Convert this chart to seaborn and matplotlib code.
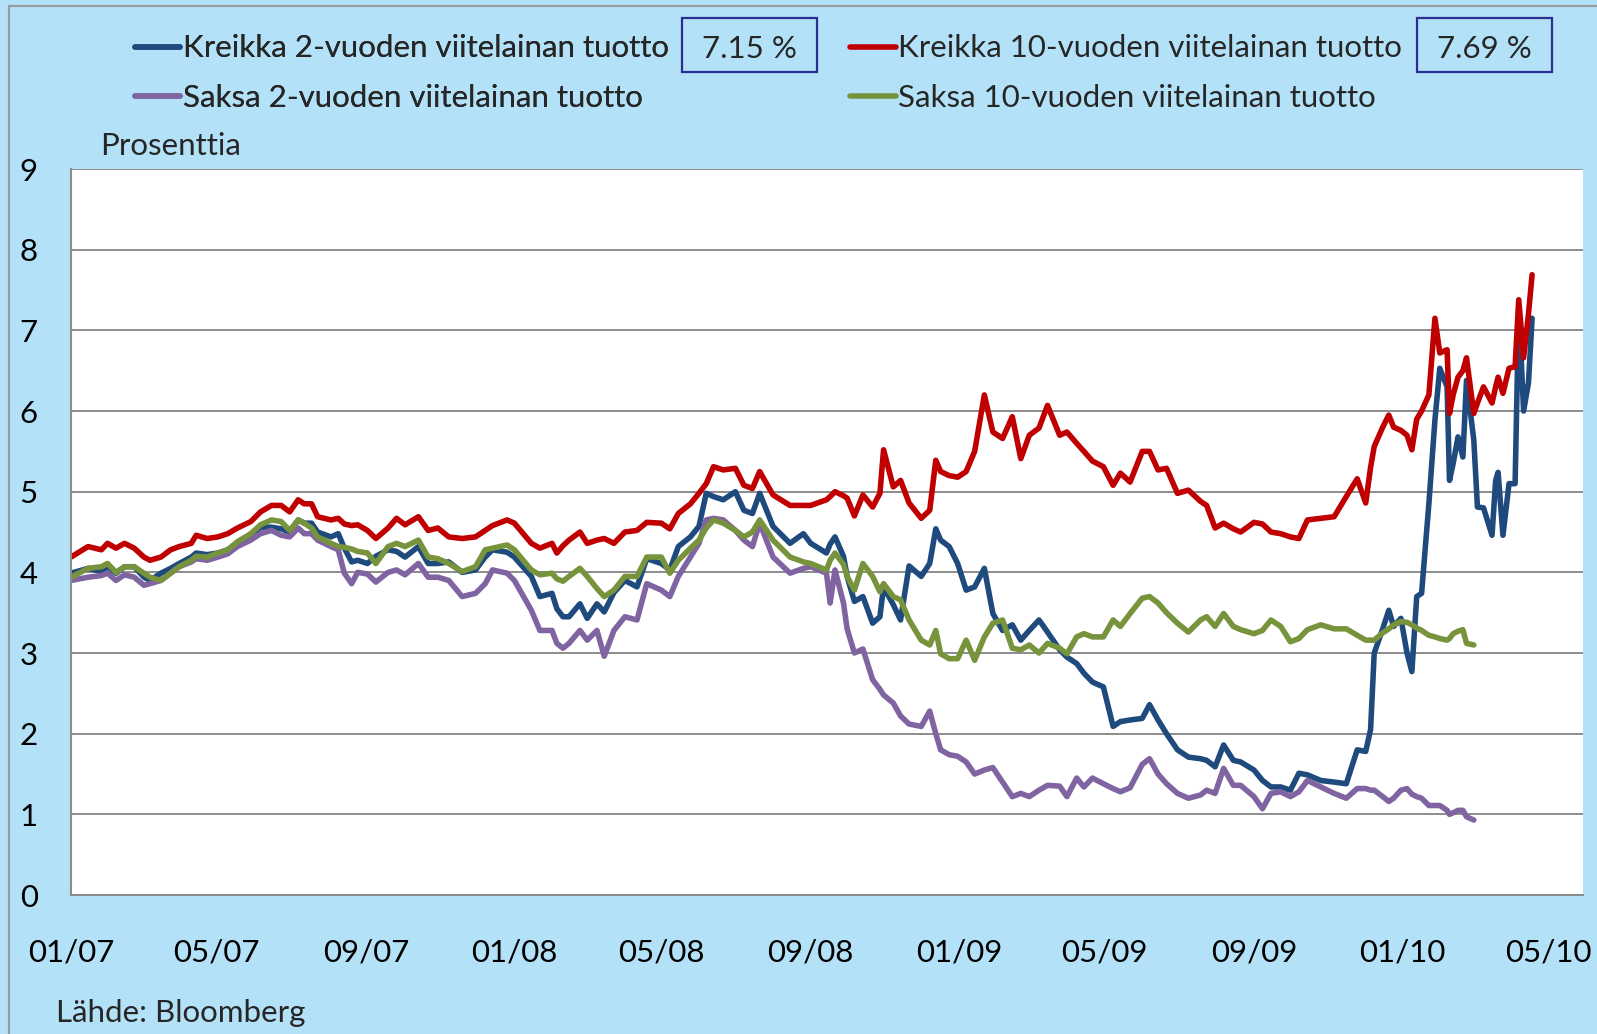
import matplotlib
matplotlib.use('Agg')
import matplotlib.pyplot as plt
import matplotlib.dates as mdates
from matplotlib import font_manager
from matplotlib.patches import Rectangle
import pandas as pd
import seaborn as sns

# sampling dates shared by all four series (German data ends 1.3.2010)
dates = [
    # 2007
    '2007-01-01', '2007-01-15', '2007-01-26', '2007-01-31', '2007-02-07', '2007-02-14', '2007-02-22',
    '2007-03-02', '2007-03-07', '2007-03-16', '2007-03-24', '2007-03-31', '2007-04-10', '2007-04-14',
    '2007-04-23', '2007-05-02', '2007-05-10', '2007-05-18', '2007-05-29', '2007-06-06', '2007-06-15',
    '2007-06-23', '2007-06-30', '2007-07-07', '2007-07-12', '2007-07-18', '2007-07-23', '2007-08-03',
    '2007-08-09', '2007-08-14', '2007-08-20', '2007-08-25', '2007-09-02', '2007-09-09', '2007-09-19',
    '2007-09-26', '2007-10-03', '2007-10-14', '2007-10-22', '2007-10-30', '2007-11-08', '2007-11-19',
    '2007-11-30', '2007-12-08', '2007-12-14', '2007-12-26',
    # 2008
    '2008-01-01', '2008-01-15', '2008-01-22', '2008-02-01', '2008-02-05', '2008-02-10', '2008-02-15',
    '2008-02-24', '2008-03-01', '2008-03-09', '2008-03-15', '2008-03-23', '2008-04-01', '2008-04-11',
    '2008-04-19', '2008-05-01', '2008-05-08', '2008-05-15', '2008-05-25', '2008-06-01', '2008-06-07',
    '2008-06-13', '2008-06-21', '2008-07-01', '2008-07-08', '2008-07-15', '2008-07-21', '2008-08-01',
    '2008-08-15', '2008-08-26', '2008-09-01', '2008-09-14', '2008-09-17', '2008-09-21', '2008-09-28',
    '2008-10-01', '2008-10-07', '2008-10-14', '2008-10-22', '2008-10-28', '2008-10-31', '2008-11-08',
    '2008-11-14', '2008-11-21', '2008-12-01', '2008-12-08', '2008-12-13', '2008-12-17', '2008-12-24',
    '2008-12-31',
    # 2009
    '2009-01-07', '2009-01-14', '2009-01-22', '2009-01-29', '2009-02-06', '2009-02-14', '2009-02-21',
    '2009-02-28', '2009-03-08', '2009-03-15', '2009-03-25', '2009-03-31', '2009-04-08', '2009-04-14',
    '2009-04-21', '2009-04-30', '2009-05-08', '2009-05-14', '2009-05-22', '2009-06-01', '2009-06-07',
    '2009-06-14', '2009-06-21', '2009-06-30', '2009-07-09', '2009-07-19', '2009-07-24', '2009-07-31',
    '2009-08-07', '2009-08-15', '2009-08-21', '2009-09-01', '2009-09-08', '2009-09-15', '2009-09-23',
    '2009-10-01', '2009-10-08', '2009-10-15', '2009-10-26', '2009-11-06', '2009-11-16', '2009-11-25',
    '2009-12-02', '2009-12-06', '2009-12-09', '2009-12-16', '2009-12-21', '2009-12-25', '2009-12-31',
    # 2010
    '2010-01-05', '2010-01-09', '2010-01-13', '2010-01-17', '2010-01-23', '2010-01-28', '2010-02-01',
    '2010-02-07', '2010-02-09', '2010-02-12', '2010-02-16', '2010-02-20', '2010-02-23', '2010-03-01',
]
# Greek series continue after the German ones stop
dates_tail = ['2010-03-04', '2010-03-09', '2010-03-16', '2010-03-19', '2010-03-21', '2010-03-25',
              '2010-03-30', '2010-04-04', '2010-04-07', '2010-04-11', '2010-04-15', '2010-04-18']

gr_10y = [
    4.19, 4.32, 4.28, 4.36, 4.30, 4.36, 4.30, 4.19, 4.15, 4.19, 4.28, 4.32, 4.36, 4.46, 4.42, 4.44,
    4.48, 4.55, 4.63, 4.75, 4.83, 4.83, 4.75, 4.90, 4.85, 4.85, 4.69, 4.65, 4.67, 4.60, 4.58, 4.59,
    4.52, 4.42, 4.55, 4.67, 4.59, 4.69, 4.52, 4.55, 4.44, 4.42, 4.44, 4.52, 4.58, 4.65,
    4.61, 4.36, 4.30, 4.36, 4.24, 4.33, 4.40, 4.50, 4.36, 4.40, 4.42, 4.36, 4.50, 4.52, 4.62, 4.61,
    4.54, 4.73, 4.85, 4.98, 5.10, 5.31, 5.27, 5.29, 5.08, 5.04, 5.25, 4.96, 4.83, 4.83, 4.83, 4.90,
    4.94, 5.00, 4.95, 4.92, 4.70, 4.96, 4.81, 4.98, 5.52, 5.06, 5.14, 4.86, 4.67, 4.77, 5.39, 5.25,
    5.20, 5.18,
    5.25, 5.50, 6.20, 5.74, 5.66, 5.93, 5.41, 5.70, 5.79, 6.07, 5.70, 5.74, 5.60, 5.50, 5.38, 5.31,
    5.08, 5.23, 5.12, 5.50, 5.50, 5.27, 5.29, 4.98, 5.02, 4.88, 4.83, 4.55, 4.61, 4.54, 4.50, 4.62,
    4.60, 4.50, 4.48, 4.44, 4.42, 4.65, 4.67, 4.69, 4.94, 5.16, 4.86, 5.30, 5.56, 5.80, 5.95, 5.80,
    5.76,
    5.70, 5.52, 5.90, 6.00, 6.20, 7.15, 6.72, 6.76, 5.97, 6.20, 6.42, 6.50, 6.66, 5.97,
    6.10, 6.30, 6.10, 6.30, 6.42, 6.22, 6.53, 6.55, 7.38, 6.66, 7.20, 7.69,
]
gr_2y = [
    3.99, 4.05, 4.01, 4.07, 3.99, 4.07, 4.07, 3.94, 3.90, 3.99, 4.05, 4.11, 4.19, 4.24, 4.22, 4.24,
    4.28, 4.36, 4.44, 4.56, 4.56, 4.54, 4.50, 4.65, 4.61, 4.61, 4.50, 4.44, 4.48, 4.30, 4.13, 4.15,
    4.11, 4.20, 4.28, 4.26, 4.19, 4.32, 4.11, 4.11, 4.13, 4.00, 4.03, 4.19, 4.28, 4.25,
    4.19, 3.95, 3.70, 3.74, 3.55, 3.45, 3.45, 3.61, 3.43, 3.61, 3.51, 3.75, 3.90, 3.82, 4.17, 4.11,
    4.03, 4.32, 4.44, 4.57, 4.98, 4.94, 4.90, 5.00, 4.77, 4.73, 4.98, 4.57, 4.36, 4.48, 4.36, 4.24,
    4.35, 4.44, 4.20, 3.95, 3.64, 3.70, 3.37, 3.45, 3.82, 3.60, 3.41, 4.08, 3.95, 4.11, 4.54, 4.40,
    4.32, 4.11,
    3.78, 3.82, 4.05, 3.49, 3.28, 3.35, 3.16, 3.28, 3.41, 3.26, 3.04, 2.95, 2.87, 2.75, 2.64, 2.58,
    2.09, 2.15, 2.17, 2.19, 2.36, 2.17, 2.00, 1.80, 1.71, 1.69, 1.67, 1.59, 1.86, 1.67, 1.65, 1.55,
    1.42, 1.34, 1.34, 1.30, 1.51, 1.49, 1.42, 1.40, 1.38, 1.80, 1.78, 2.05, 3.00, 3.30, 3.53, 3.33,
    3.43,
    3.00, 2.77, 3.70, 3.74, 4.85, 5.89, 6.53, 6.30, 5.14, 5.35, 5.68, 5.43, 6.38, 5.64,
    4.81, 4.80, 4.46, 5.14, 5.24, 4.46, 5.10, 5.10, 7.30, 6.00, 6.35, 7.15,
]
de_10y = [
    3.94, 4.05, 4.07, 4.11, 4.00, 4.07, 4.07, 3.99, 3.94, 3.90, 3.99, 4.07, 4.15, 4.20, 4.19, 4.24,
    4.28, 4.38, 4.48, 4.59, 4.65, 4.63, 4.52, 4.65, 4.61, 4.55, 4.44, 4.36, 4.32, 4.31, 4.29, 4.26,
    4.24, 4.11, 4.32, 4.36, 4.32, 4.40, 4.19, 4.17, 4.11, 4.01, 4.07, 4.28, 4.30, 4.34,
    4.28, 4.03, 3.97, 3.99, 3.92, 3.89, 3.95, 4.05, 3.95, 3.80, 3.70, 3.78, 3.95, 3.95, 4.19, 4.19,
    3.99, 4.15, 4.30, 4.40, 4.55, 4.65, 4.61, 4.52, 4.44, 4.50, 4.65, 4.40, 4.19, 4.13, 4.11, 4.03,
    4.15, 4.24, 4.10, 3.95, 3.78, 4.11, 3.95, 3.76, 3.86, 3.70, 3.66, 3.41, 3.16, 3.10, 3.28, 2.99,
    2.93, 2.93,
    3.16, 2.91, 3.20, 3.37, 3.41, 3.06, 3.04, 3.10, 3.00, 3.12, 3.06, 2.99, 3.20, 3.24, 3.20, 3.20,
    3.41, 3.33, 3.49, 3.68, 3.70, 3.62, 3.50, 3.37, 3.26, 3.41, 3.45, 3.33, 3.49, 3.33, 3.29, 3.24,
    3.28, 3.41, 3.33, 3.14, 3.18, 3.29, 3.35, 3.30, 3.30, 3.22, 3.16, 3.16, 3.16, 3.25, 3.30, 3.35,
    3.39,
    3.38, 3.35, 3.31, 3.28, 3.22, 3.20, 3.18, 3.16, 3.18, 3.24, 3.27, 3.29, 3.12, 3.10,
]
de_2y = [
    3.90, 3.94, 3.96, 3.99, 3.90, 3.97, 3.94, 3.84, 3.86, 3.90, 3.99, 4.07, 4.13, 4.17, 4.15, 4.19,
    4.23, 4.32, 4.40, 4.48, 4.52, 4.46, 4.44, 4.55, 4.48, 4.48, 4.40, 4.32, 4.28, 3.99, 3.86, 4.00,
    3.98, 3.88, 4.00, 4.03, 3.97, 4.11, 3.94, 3.94, 3.90, 3.70, 3.74, 3.86, 4.03, 3.99,
    3.90, 3.53, 3.28, 3.28, 3.12, 3.06, 3.12, 3.28, 3.16, 3.28, 2.96, 3.28, 3.45, 3.41, 3.86, 3.78,
    3.70, 3.95, 4.19, 4.36, 4.65, 4.67, 4.65, 4.52, 4.40, 4.32, 4.61, 4.19, 3.99, 4.05, 4.07, 3.99,
    3.62, 4.03, 3.62, 3.30, 3.00, 3.05, 2.67, 2.55, 2.48, 2.38, 2.22, 2.12, 2.09, 2.28, 2.00, 1.80,
    1.74, 1.72,
    1.65, 1.50, 1.55, 1.58, 1.40, 1.22, 1.26, 1.22, 1.30, 1.36, 1.35, 1.22, 1.45, 1.34, 1.45, 1.38,
    1.32, 1.28, 1.33, 1.62, 1.69, 1.50, 1.38, 1.26, 1.20, 1.24, 1.30, 1.26, 1.57, 1.36, 1.36, 1.22,
    1.07, 1.26, 1.28, 1.22, 1.28, 1.42, 1.34, 1.26, 1.20, 1.32, 1.32, 1.30, 1.30, 1.22, 1.16, 1.20,
    1.30,
    1.32, 1.25, 1.22, 1.20, 1.11, 1.11, 1.11, 1.05, 1.00, 1.02, 1.05, 1.05, 0.97, 0.93,
]

series_labels = ['Kreikka 2-vuoden viitelainan tuotto', 'Kreikka 10-vuoden viitelainan tuotto',
                 'Saksa 2-vuoden viitelainan tuotto', 'Saksa 10-vuoden viitelainan tuotto']
series_colors = ['#1F4A7D', '#C00000', '#8064A2', '#77933C']
last_values = ['7.15 %', '7.69 %']
tick_dates = ['2007-01-01', '2007-05-01', '2007-09-01', '2008-01-01', '2008-05-01', '2008-09-01',
              '2009-01-01', '2009-05-01', '2009-09-01', '2010-01-01', '2010-05-01']

BG = '#B3E1F7'
GRID = '#8C8C8C'


def pick_font():
    names = {f.name for f in font_manager.fontManager.ttflist}
    for name in ('Lato', 'Liberation Sans', 'DejaVu Sans'):
        if name in names:
            return name
    return 'DejaVu Sans'


def plot_bond_yields():
    sns.set_theme(style='white')
    plt.rcParams['font.family'] = [pick_font(), 'DejaVu Sans']
    fs = 22.5

    greek_dates = dates + dates_tail
    frames = []
    for label, d, v in [(series_labels[0], greek_dates, gr_2y),
                        (series_labels[1], greek_dates, gr_10y),
                        (series_labels[2], dates, de_2y),
                        (series_labels[3], dates, de_10y)]:
        frames.append(pd.DataFrame({'date': pd.to_datetime(d), 'value': v, 'series': label}))
    df = pd.concat(frames, ignore_index=True)

    fig = plt.figure(figsize=(15.97, 10.34), dpi=100, facecolor=BG)
    fig.add_artist(Rectangle((0.0058, -0.1), 1.2, 1.094, transform=fig.transFigure,
                             facecolor='none', edgecolor='#9A9A9A', lw=1.5))
    ax = fig.add_axes([0.0445, 0.1344, 0.9468, 0.7021])
    ax.set_facecolor('white')

    sns.lineplot(data=df, x='date', y='value', hue='series', hue_order=series_labels,
                 palette=dict(zip(series_labels, series_colors)), lw=4, legend=False, ax=ax)

    ax.set_xlim(pd.Timestamp('2007-01-01'), pd.Timestamp('2010-05-30'))
    ax.set_ylim(0, 9)
    ax.set_yticks(range(10))
    ax.set_xticks(pd.to_datetime(tick_dates))
    ax.xaxis.set_major_formatter(mdates.DateFormatter('%m/%y'))
    ax.set_xlabel('')
    ax.set_ylabel('')
    ax.grid(axis='y', color=GRID, lw=1.4)
    ax.grid(axis='x', visible=False)
    for side in ('top', 'right'):
        ax.spines[side].set_visible(False)
    for side in ('left', 'bottom'):
        ax.spines[side].set_color(GRID)
        ax.spines[side].set_linewidth(1.5)
    ax.tick_params(axis='x', direction='out', length=8, width=1.2, color=GRID,
                   labelsize=fs, pad=23, labelcolor='black')
    ax.tick_params(axis='y', direction='out', length=8, width=1.2, color=GRID,
                   labelsize=fs, pad=16, labelcolor='black')

    lines = ax.get_lines()
    leg_kw = dict(loc='center left', frameon=False, fontsize=fs, borderpad=0, borderaxespad=0,
                  handlelength=1.45, handletextpad=0.08, labelspacing=0.7)
    leg1 = fig.legend([lines[0], lines[2]], [series_labels[0], series_labels[2]],
                      bbox_to_anchor=(0.0845, 0.929), **leg_kw)
    fig.legend([lines[1], lines[3]], [series_labels[1], series_labels[3]],
               bbox_to_anchor=(0.5324, 0.929), **leg_kw)
    fig.add_artist(leg1)

    # boxes with the latest Greek yields
    for cx, txt in [(0.4693, last_values[0]), (0.9295, last_values[1])]:
        fig.add_artist(Rectangle((cx - 0.0422, 0.9304), 0.0844, 0.0522, transform=fig.transFigure,
                                 facecolor='none', edgecolor='#2B2F8F', lw=1.6))
        fig.text(cx, 0.953, txt, ha='center', va='center', fontsize=fs)

    fig.text(0.0626, 0.859, 'Prosenttia', ha='left', va='center', fontsize=fs)
    fig.text(0.035, 0.02, 'Lähde: Bloomberg', ha='left', va='center', fontsize=fs)

    fig.savefig('out.png', dpi=100, facecolor=fig.get_facecolor())


if __name__ == '__main__':
    plot_bond_yields()
